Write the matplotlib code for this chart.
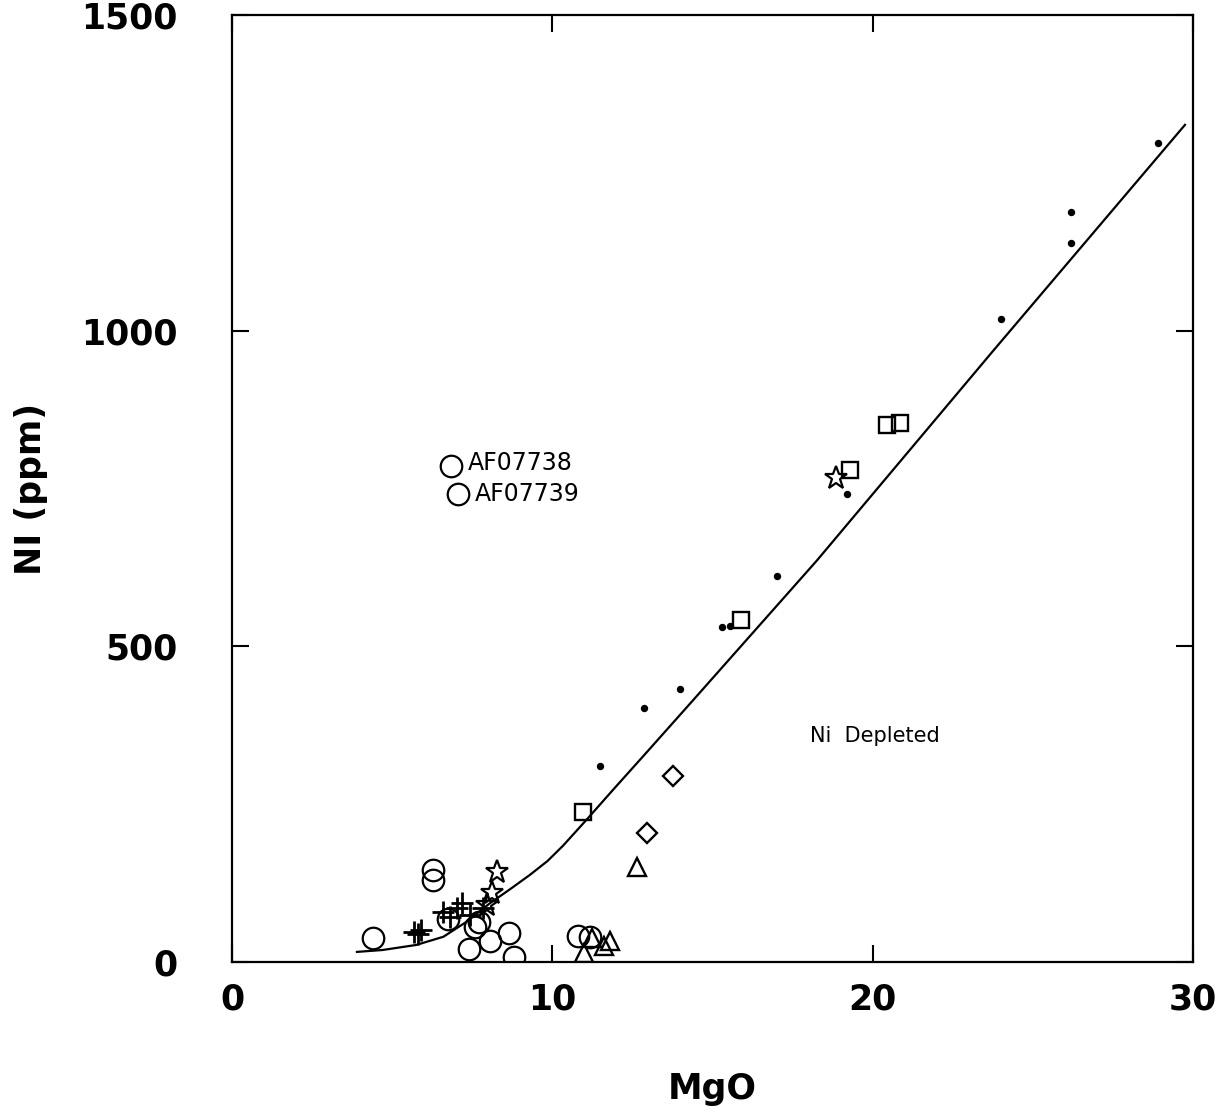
import matplotlib
matplotlib.use("Agg")
import matplotlib.pyplot as plt

# ---- data ----
dots_x = [28.9, 26.2, 26.2, 24.0, 17.0, 19.2, 15.3, 15.55, 14.0, 12.85, 11.5]
dots_y = [1297, 1188, 1139, 1019, 611, 742, 530, 532, 432, 403, 310]

squares_x = [20.45, 20.85, 19.3, 15.9, 10.95]
squares_y = [851, 853, 780, 541, 237]

diamonds_x = [13.77, 12.96]
diamonds_y = [294, 204]

triangles_x = [12.65, 11.0, 11.24, 11.6, 11.8]
triangles_y = [150, 14, 38, 25, 33]

circles_x = [4.4, 6.27, 6.27, 6.84, 7.06, 6.75, 7.6, 7.7, 7.4, 8.05, 8.65, 8.8, 10.8, 11.18]
circles_y = [38, 146, 130, 785, 741, 68, 56, 64, 20, 33, 46, 8, 41, 40]

plus_x = [5.68, 5.9, 5.8, 6.58, 7.02, 7.18, 6.8, 7.43, 7.84]
plus_y = [47, 51, 44, 79, 85, 93, 71, 74, 85]

stars_x = [8.27, 8.12, 7.95, 18.86]
stars_y = [142, 109, 90, 767]

curve_x = [3.9, 4.7, 5.75, 6.6, 7.3, 8.05, 8.7, 9.3, 9.85, 10.33, 11.08, 11.9, 12.96, 14.4, 18.26, 23.76, 29.75]
curve_y = [16, 19, 27, 40, 63, 93, 116, 138, 160, 184, 226, 273, 333, 415, 636, 968, 1326]

labels = [("AF07738", 7.37, 791), ("AF07739", 7.59, 741)]
region_label = ("Ni  Depleted", 18.05, 358)

xticks = [0, 10, 20, 30]
yticks = [0, 500, 1000, 1500]

# ---- figure ----
fig = plt.figure(figsize=(12.27, 11.15), dpi=100)
ax = fig.add_axes([232 / 1227, 1 - 962 / 1115, (1193 - 232) / 1227, (962 - 15) / 1115])

ax.plot(curve_x, curve_y, color="black", lw=1.6, zorder=2)

ax.plot(dots_x, dots_y, "o", ms=4.3, color="black", zorder=3)
ax.plot(squares_x, squares_y, "s", ms=11, mfc="none", mec="black", mew=1.7, zorder=3)
ax.plot(diamonds_x, diamonds_y, "D", ms=10.5, mfc="none", mec="black", mew=1.7, zorder=3)
ax.plot(triangles_x, triangles_y, "^", ms=13, mfc="none", mec="black", mew=1.7, zorder=3)
ax.plot(circles_x, circles_y, "o", ms=15.5, mfc="none", mec="black", mew=1.6, zorder=3)
ax.plot(plus_x, plus_y, "+", ms=16, mec="black", mew=2.0, zorder=3)
ax.plot(stars_x, stars_y, "*", ms=17, mfc="none", mec="black", mew=1.6, zorder=3)

for txt, x, y in labels:
    ax.text(x, y, txt, fontsize=17, ha="left", va="center", family="DejaVu Sans")
ax.text(region_label[1], region_label[2], region_label[0], fontsize=15,
        ha="left", va="center", family="DejaVu Sans")

ax.set_xlim(0, 30)
ax.set_ylim(0, 1500)
ax.set_xticks(xticks)
ax.set_yticks(yticks)
ax.set_xticklabels([str(t) for t in xticks], fontsize=25, fontweight="heavy")
ax.set_yticklabels([str(t) for t in yticks], fontsize=25, fontweight="heavy")
ax.tick_params(direction="in", length=12, width=1.5, top=True, right=True)
ax.tick_params(axis="x", pad=15)
ax.tick_params(axis="y", pad=39)
for s in ax.spines.values():
    s.set_linewidth(1.6)

ax.set_xlabel("MgO", fontsize=25, fontweight="heavy", labelpad=40)
ax.set_ylabel("NI (ppm)", fontsize=25, fontweight="heavy", labelpad=24)

fig.savefig("out.png", dpi=100, facecolor="white")
